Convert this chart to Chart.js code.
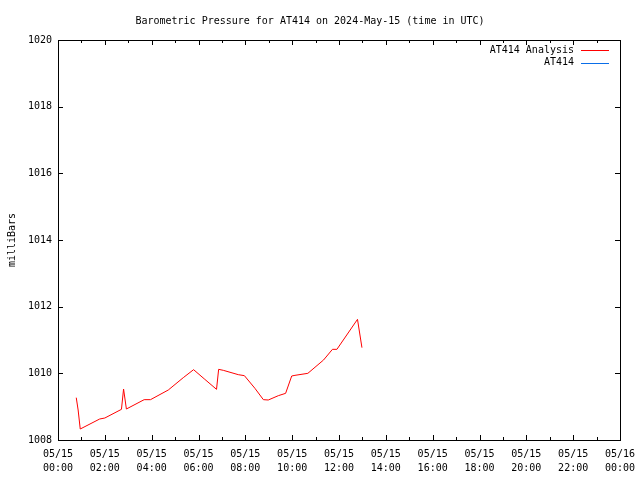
<!DOCTYPE html>
<html>
<head>
<meta charset="utf-8">
<script src="https://cdn.jsdelivr.net/npm/chart.js@4"></script>
<style>
  html, body { margin: 0; padding: 0; background: #fff; }
</style>
</head>
<body>
<canvas id="pressureChart" width="640" height="480"></canvas>
<script>
// hours after 2024-05-15 00:00 UTC
const hours = [0.78, 0.86, 0.95, 1.78, 2.0, 2.71, 2.8, 2.92, 3.68, 3.95, 4.71, 5.35, 5.79, 6.27, 6.77, 6.86, 7.06, 7.70, 7.96, 8.41, 8.77, 8.98, 9.41, 9.72, 9.98, 10.12, 10.67, 11.34, 11.72, 11.91, 12.79, 12.98];
const pressure = [1009.27, 1008.9, 1008.33, 1008.63, 1008.66, 1008.92, 1009.53, 1008.93, 1009.21, 1009.21, 1009.5, 1009.87, 1010.11, 1009.82, 1009.52, 1010.12, 1010.09, 1009.96, 1009.93, 1009.55, 1009.21, 1009.2, 1009.33, 1009.4, 1009.92, 1009.94, 1010.0, 1010.4, 1010.72, 1010.72, 1011.62, 1010.77];
const stationObs = [];

const yTicks = [1008, 1010, 1012, 1014, 1016, 1018, 1020];
const xTicks = [0, 2, 4, 6, 8, 10, 12, 14, 16, 18, 20, 22, 24];

const FONT = { family: '"DejaVu Sans Mono", "Liberation Mono", monospace', size: 10 };

const pad2 = n => String(n).padStart(2, '0');

// gnuplot style frame, inward ticks on all sides, legend text left of its line
const gnuFrame = {
    id: 'gnuFrame',
    afterDraw(chart) {
        const { ctx, chartArea: a, scales: { x, y } } = chart;
        ctx.save();
        ctx.strokeStyle = '#000';
        ctx.lineWidth = 1;
        ctx.beginPath();
        for (let h = 0; h <= 24; h++) {
            const px = Math.round(x.getPixelForValue(h)) + 0.5;
            const len = h % 2 === 0 ? 5 : 3;
            ctx.moveTo(px, a.bottom); ctx.lineTo(px, a.bottom - len);
            ctx.moveTo(px, a.top); ctx.lineTo(px, a.top + len);
        }
        yTicks.forEach(v => {
            const py = Math.round(y.getPixelForValue(v)) + 0.5;
            ctx.moveTo(a.left, py); ctx.lineTo(a.left + 5, py);
            ctx.moveTo(a.right, py); ctx.lineTo(a.right - 5, py);
        });
        ctx.stroke();
        ctx.strokeRect(Math.round(a.left) + 0.5, Math.round(a.top) + 0.5,
            Math.round(a.right - a.left), Math.round(a.bottom - a.top));

        ctx.font = `${FONT.size}px ${FONT.family}`;
        ctx.textAlign = 'right';
        ctx.textBaseline = 'middle';
        chart.data.datasets.forEach((ds, i) => {
            const ly = a.top + 10 + i * 12.5;
            ctx.fillStyle = '#000';
            ctx.fillText(ds.label, a.right - 46, ly);
            ctx.strokeStyle = ds.borderColor;
            ctx.beginPath();
            ctx.moveTo(a.right - 39, Math.round(ly) + 0.5);
            ctx.lineTo(a.right - 11, Math.round(ly) + 0.5);
            ctx.stroke();
        });
        ctx.restore();
    }
};

new Chart(document.getElementById('pressureChart'), {
    type: 'line',
    data: {
        datasets: [{
            label: 'AT414 Analysis',
            data: hours.map((h, i) => ({ x: h, y: pressure[i] })),
            borderColor: '#ff0000',
            borderWidth: 1,
            pointRadius: 0,
            tension: 0
        }, {
            label: 'AT414',
            data: stationObs,
            borderColor: '#0a6ee8',
            borderWidth: 1,
            pointRadius: 0
        }]
    },
    options: {
        responsive: false,
        animation: false,
        layout: { padding: { left: 0, right: 20, top: 0, bottom: 0 } },
        plugins: {
            legend: { display: false },
            tooltip: { enabled: false },
            title: {
                display: true,
                text: 'Barometric Pressure for AT414 on 2024-May-15 (time in UTC)',
                color: '#000',
                font: { ...FONT, weight: 'normal', lineHeight: 1.2 },
                padding: { top: 15, bottom: 13 }
            }
        },
        scales: {
            x: {
                type: 'linear',
                min: 0,
                max: 24,
                afterFit: s => { s.height = 40; s.paddingLeft = 0; s.paddingRight = 0; },
                afterBuildTicks: s => { s.ticks = xTicks.map(v => ({ value: v })); },
                grid: { display: false, drawTicks: false },
                border: { display: false },
                ticks: {
                    color: '#000',
                    font: { ...FONT, lineHeight: 1.4 },
                    padding: 7,
                    maxRotation: 0,
                    autoSkip: false,
                    callback: v => [v < 24 ? '05/15' : '05/16', pad2(v % 24) + ':00']
                }
            },
            y: {
                min: 1008,
                max: 1020,
                afterFit: s => { s.width = 58; s.paddingTop = 0; s.paddingBottom = 0; },
                afterBuildTicks: s => { s.ticks = yTicks.map(v => ({ value: v })); },
                grid: { display: false, drawTicks: false },
                border: { display: false },
                title: {
                    display: true,
                    text: 'milliBars',
                    color: '#000',
                    font: FONT,
                    padding: { top: 6, bottom: 0 }
                },
                ticks: {
                    color: '#000',
                    font: FONT,
                    padding: 6,
                    callback: v => String(v)
                }
            }
        }
    },
    plugins: [gnuFrame]
});
</script>
</body>
</html>
